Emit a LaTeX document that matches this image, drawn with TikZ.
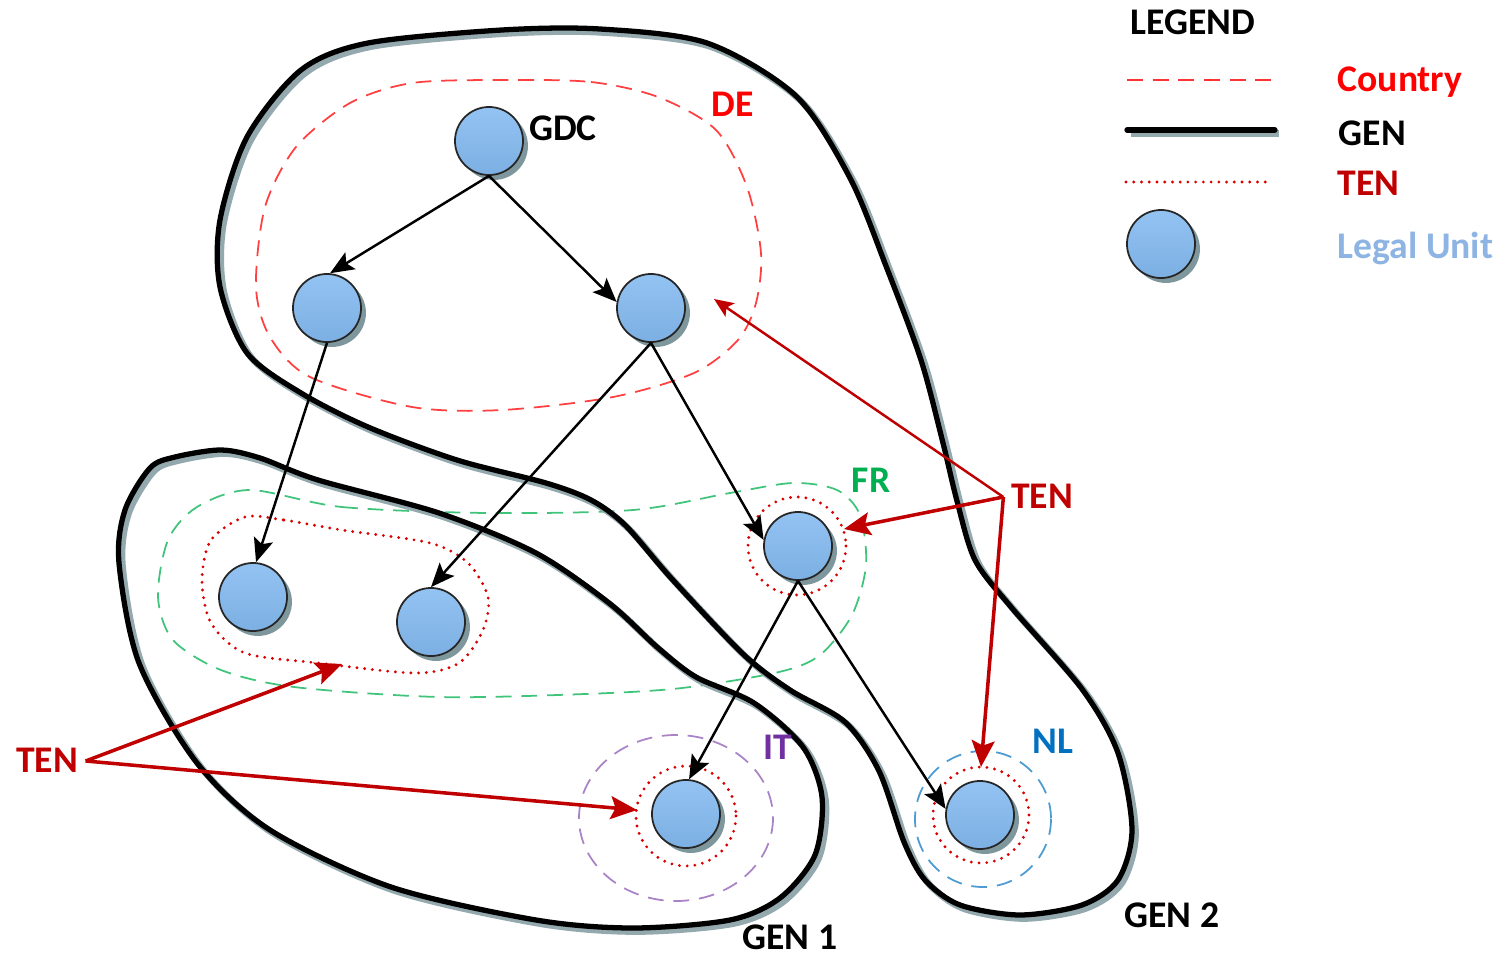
\documentclass[tikz,border=0pt]{standalone}
\usepackage{fontspec}
\setmainfont{Carlito}
\usetikzlibrary{arrows.meta}
\usetikzlibrary{shadows}
\usepackage{tikz}

\definecolor{lutop}{HTML}{93C3F3}
\definecolor{lubot}{HTML}{7CAFE2}
\definecolor{lushade}{HTML}{7E979C}
\definecolor{genshade}{HTML}{93A9AE}
\definecolor{tenred}{HTML}{C00000}
\definecolor{dered}{HTML}{FF0000}
\definecolor{frgreen}{HTML}{00B050}
\definecolor{itpurple}{HTML}{7030A0}
\definecolor{nlblue}{HTML}{0070C0}
\definecolor{lulabel}{HTML}{8DB4E2}

\begin{document}
\begin{tikzpicture}[x=0.01cm, y=-0.01cm,
  lbl/.style={font=\fontsize{10.7}{13}\selectfont\bfseries, inner sep=0pt, text height=0.64em, text depth=0pt},
  tenlbl/.style={lbl, inner sep=2pt, text=tenred},
  lu/.style={circle, draw=black!85, line width=0.5pt, minimum size=0.68cm, inner sep=0pt,
    top color=lutop, bottom color=lubot,
    drop shadow={shadow xshift=1.4pt, shadow yshift=-1.4pt, fill=lushade, opacity=1}},
  gen/.style={line width=1.5pt, line cap=round, preaction={draw=genshade, line width=1.9pt, transform canvas={xshift=1pt, yshift=-1pt}}},
  country/.style={line width=0.5pt, dash pattern=on 4.5pt off 2.8pt},
  ten/.style={draw=red!85!black, line width=0.9pt, line cap=round, dash pattern=on 0pt off 2.2pt},
  link/.style={line width=0.7pt, -{Stealth[length=6.8pt, width=5.6pt, inset=1.4pt]}},
  tenlink/.style={draw=tenred, line width=1pt, -{Stealth[length=7.5pt, width=6.5pt, inset=1.4pt]}}]
\useasboundingbox (0,0) rectangle (1505,954);

% countries
\draw[country, draw=dered!75] plot[smooth cycle] coordinates {(502,80) (591,82) (658,97) (716,130) (747,187) (761,253) (756,303) (738,340) (694,373) (613,397) (502,410) (412,407) (310,377) (270,337) (256,287) (265,207) (296,147) (350,103) (412,83)};
\draw[country, draw=frgreen!75] plot[smooth cycle] coordinates {(250,490) (342,507) (488,513) (633,510) (730,493) (793,483) (837,490) (860,515) (866,565) (852,615) (820,655) (779,672) (682,688) (585,694) (439,697) (294,687) (221,670) (173,640) (158,597) (168,540) (197,507)};
\draw[country, draw=itpurple!60] (676,818) ellipse [x radius=97, y radius=83];
\draw[country, draw=nlblue!70] (983,819) circle [radius=68];

% TEN
\draw[ten] plot[smooth cycle] coordinates {(245,517) (284,520) (342,530) (430,543) (468,563) (488,597) (483,630) (459,663) (415,673) (318,663) (245,653) (211,623) (202,580) (211,540)};
\draw[ten] (797,546) circle [radius=49];
\draw[ten] (686,816) circle [radius=50];
\draw[ten] (981,815) circle [radius=48];

% GEN
\draw[gen] plot[smooth cycle] coordinates {(221,450) (260,458) (318,480) (439,513) (536,553) (609,603) (657,647) (696,677) (754,703) (803,747) (822,797) (815,855) (780,898) (730,920) (633,928) (536,920) (391,887) (270,830) (197,763) (139,663) (119,563) (125,510) (150,468) (175,457)};
\draw[gen] plot[smooth cycle] coordinates {(220,220) (247,137) (301,70) (368,43) (502,30) (600,29) (707,43) (796,96) (850,178) (886,266) (921,360) (943,443) (957,501) (975,560) (1011,607) (1082,689) (1118,753) (1132,830) (1118,880) (1082,905) (1020,915) (960,905) (925,880) (904,842) (879,771) (845,722) (790,690) (743,654) (671,578) (625,525) (591,500) (546,483) (457,460) (368,427) (301,393) (247,353) (220,287)};

% legal units
\node[lu] (gdc) at (489,141) {};
\node[lu] (de1) at (327,308) {};
\node[lu] (de2) at (651,308) {};
\node[lu] (fr1) at (253,597) {};
\node[lu] (fr2) at (431,622) {};
\node[lu] (fr3) at (798,546) {};
\node[lu] (it1) at (686,814) {};
\node[lu] (nl1) at (980,815) {};

\draw[link] (gdc.south) -- (de1.85);
\draw[link] (gdc.south) -- (de2.170);
\draw[link] (de1.south) -- (fr1.85);
\draw[link] (de2.south) -- (fr2.north);
\draw[link] (de2.south) -- (fr3.170);
\draw[link] (fr3.south) -- (it1.85);
\draw[link] (fr3.south) -- (nl1.170);

% labels
\node[lbl] (gdclbl) at (563,129) {GDC};
\node[lbl, text=dered] (delbl) at (733,105) {DE};
\node[lbl, text=frgreen] (frlbl) at (871,481) {FR};
\node[lbl, text=itpurple] (itlbl) at (778,748) {IT};
\node[lbl, text=nlblue] (nllbl) at (1053,742) {NL};
\node[lbl] (gen1lbl) at (790,938) {GEN 1};
\node[lbl] (gen2lbl) at (1172,916) {GEN 2};

\node[tenlbl] (tenR) at (1042,497) {TEN};
\node[tenlbl] (tenL) at (47,761) {TEN};
\coordinate (tDE) at (714,299);
\coordinate (tFR) at (844,529);
\coordinate (tNL) at (981,767);
\coordinate (tAB) at (342,664);
\coordinate (tIT) at (637,810);
\draw[tenlink, line width=0.7pt, -{Stealth[length=5.5pt, width=4.6pt, inset=1.2pt]}] (tenR.west) -- (tDE);
\draw[tenlink] (tenR.west) -- (tFR);
\draw[tenlink] (tenR.west) -- (tNL);
\draw[tenlink] (tenL.east) -- (tAB);
\draw[tenlink] (tenL.east) -- (tIT);

% legend
\node[lbl] (legend) at (1193,23) {LEGEND};
\coordinate (k1a) at (1127,80);  \coordinate (k1b) at (1273,80);
\coordinate (k2a) at (1127,130); \coordinate (k2b) at (1275,130);
\coordinate (k3a) at (1126,182); \coordinate (k3b) at (1268,182);
\draw[country, draw=dered!80] (k1a) -- (k1b);
\draw[gen] (k2a) -- (k2b);
\draw[ten] (k3a) -- (k3b);
\node[lu] (lukey) at (1161,244) {};
\node[lbl, anchor=west, text=dered] at (1337,80) {Country};
\node[lbl, anchor=west] at (1338,134) {GEN};
\node[lbl, anchor=west, text=tenred] at (1337,184) {TEN};
\node[lbl, anchor=west, text=lulabel] at (1337,247) {Legal Unit};
\end{tikzpicture}
\end{document}
